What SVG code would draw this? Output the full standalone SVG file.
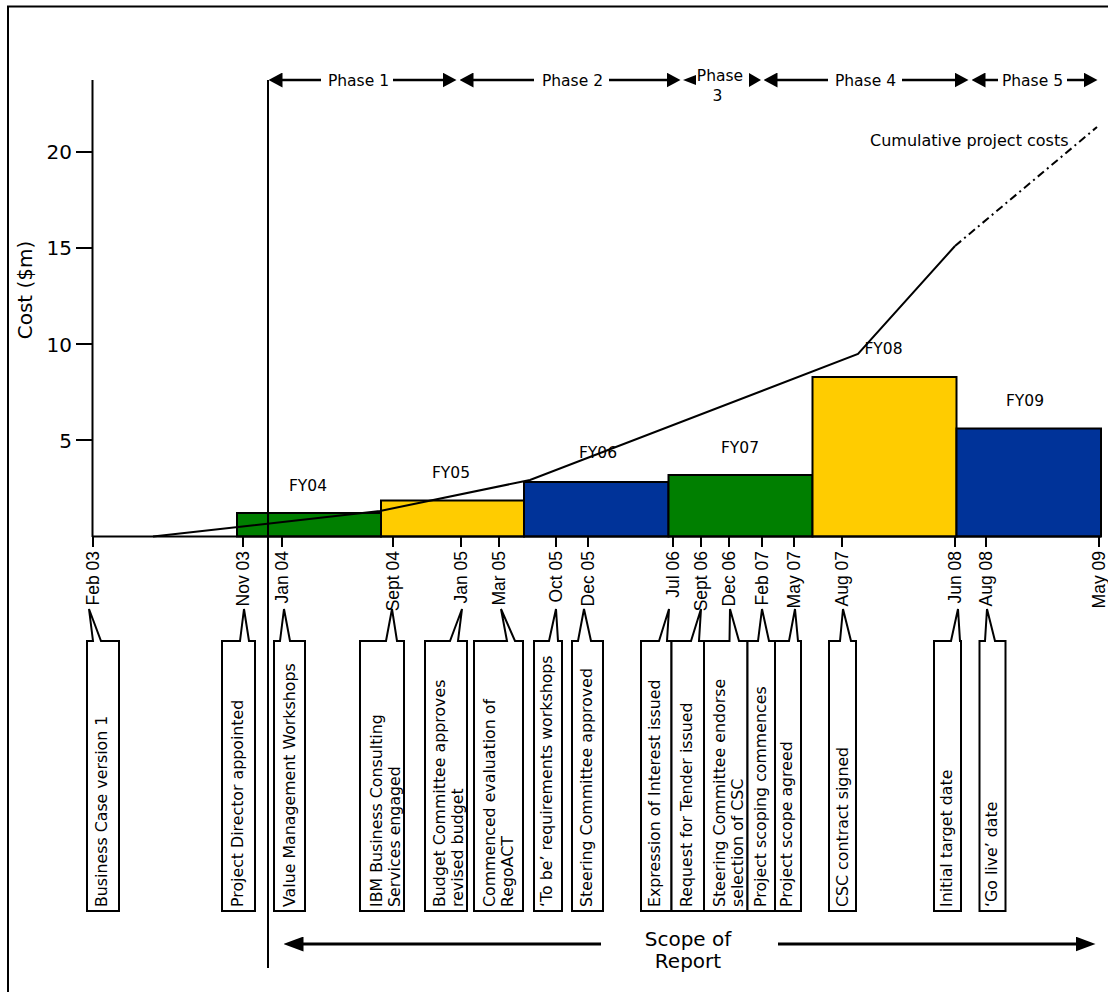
<svg xmlns="http://www.w3.org/2000/svg" width="1108" height="992" viewBox="0 0 1108 992">
<style>
.t{font-family:"DejaVu Sans",Verdana,sans-serif;fill:#000}
.ax{font-size:20px}
.ph{font-size:15.5px;text-anchor:middle}
.fy{font-size:15.5px;text-anchor:middle}
.dt{font-family:"Liberation Sans",Arial,sans-serif;font-size:17.5px;fill:#000;text-anchor:end}
.bx{font-size:15.8px}
.ln{stroke:#000;stroke-width:2;fill:none}
.bar{stroke:#000;stroke-width:2}
.cb{fill:#fff;stroke:#000;stroke-width:2;stroke-linejoin:miter}
.arr{stroke:#000;stroke-width:2.5;fill:none}
.sarr{stroke:#000;stroke-width:3;fill:none}
</style>
<defs>
<marker id="ah" markerUnits="userSpaceOnUse" markerWidth="14" markerHeight="15" viewBox="0 0 14 15" refX="0.5" refY="7.5" orient="auto"><path d="M0,0 L14,7.5 L0,15 Z" fill="#000"/></marker>
<marker id="ahb" markerUnits="userSpaceOnUse" markerWidth="20" markerHeight="15" viewBox="0 0 20 15" refX="0.5" refY="7.5" orient="auto"><path d="M0,0 L20,7.5 L0,15 Z" fill="#000"/></marker>
</defs>
<rect x="0" y="0" width="1108" height="992" fill="#fff"/>
<rect x="8" y="6.5" width="1120" height="1000" fill="none" stroke="#000" stroke-width="2"/>

<g id="axis">
<line class="ln" x1="92.5" y1="80" x2="92.5" y2="537"/>
<line class="ln" x1="76" y1="152" x2="92.5" y2="152"/>
<line class="ln" x1="76" y1="248" x2="92.5" y2="248"/>
<line class="ln" x1="76" y1="344" x2="92.5" y2="344"/>
<line class="ln" x1="76" y1="440" x2="92.5" y2="440"/>
<text class="t ax" x="72" y="159" text-anchor="end">20</text>
<text class="t ax" x="72" y="255" text-anchor="end">15</text>
<text class="t ax" x="72" y="352" text-anchor="end">10</text>
<text class="t ax" x="72" y="448" text-anchor="end">5</text>
<text class="t ax" transform="translate(32,290) rotate(-90)" text-anchor="middle">Cost ($m)</text>
</g>

<g id="bars">
<g id="bar-fy04"><rect class="bar" x="237" y="513" width="144" height="23.5" fill="#007F00"/><text class="t fy" x="308" y="490.5">FY04</text></g>
<g id="bar-fy05"><rect class="bar" x="381" y="500.5" width="143" height="36" fill="#FFCC00"/><text class="t fy" x="451" y="477.5">FY05</text></g>
<g id="bar-fy06"><rect class="bar" x="524" y="482" width="144.5" height="54.5" fill="#003399"/><text class="t fy" x="598" y="457.5">FY06</text></g>
<g id="bar-fy07"><rect class="bar" x="668.5" y="475" width="144" height="61.5" fill="#007F00"/><text class="t fy" x="740" y="452.5">FY07</text></g>
<g id="bar-fy08"><rect class="bar" x="812.5" y="377" width="144" height="159.5" fill="#FFCC00"/><text class="t fy" x="883.5" y="353.5">FY08</text></g>
<g id="bar-fy09"><rect class="bar" x="956.5" y="428.5" width="144.5" height="108" fill="#003399"/><text class="t fy" x="1025" y="405.5">FY09</text></g>
</g>

<line class="ln" x1="92.5" y1="536.5" x2="1101" y2="536.5"/>

<g id="dates">
<g class="ln">
<line x1="93" y1="536" x2="93" y2="547"/>
<line x1="243" y1="536" x2="243" y2="547"/>
<line x1="282" y1="536" x2="282" y2="547"/>
<line x1="393" y1="536" x2="393" y2="547"/>
<line x1="461" y1="536" x2="461" y2="547"/>
<line x1="499" y1="536" x2="499" y2="547"/>
<line x1="556" y1="536" x2="556" y2="547"/>
<line x1="588" y1="536" x2="588" y2="547"/>
<line x1="673" y1="536" x2="673" y2="547"/>
<line x1="701" y1="536" x2="701" y2="547"/>
<line x1="729" y1="536" x2="729" y2="547"/>
<line x1="762" y1="536" x2="762" y2="547"/>
<line x1="794" y1="536" x2="794" y2="547"/>
<line x1="842" y1="536" x2="842" y2="547"/>
<line x1="955" y1="536" x2="955" y2="547"/>
<line x1="986" y1="536" x2="986" y2="547"/>
<line x1="1099" y1="536" x2="1099" y2="547"/>
</g>
<text class="dt" transform="translate(99,551) rotate(-90)">Feb 03</text>
<text class="dt" transform="translate(249,551) rotate(-90)">Nov 03</text>
<text class="dt" transform="translate(288,551) rotate(-90)">Jan 04</text>
<text class="dt" transform="translate(399,551) rotate(-90)">Sept 04</text>
<text class="dt" transform="translate(467,551) rotate(-90)">Jan 05</text>
<text class="dt" transform="translate(505,551) rotate(-90)">Mar 05</text>
<text class="dt" transform="translate(562,551) rotate(-90)">Oct 05</text>
<text class="dt" transform="translate(594,551) rotate(-90)">Dec 05</text>
<text class="dt" transform="translate(679,551) rotate(-90)">Jul 06</text>
<text class="dt" transform="translate(707,551) rotate(-90)">Sept 06</text>
<text class="dt" transform="translate(735,551) rotate(-90)">Dec 06</text>
<text class="dt" transform="translate(768,551) rotate(-90)">Feb 07</text>
<text class="dt" transform="translate(800,551) rotate(-90)">May 07</text>
<text class="dt" transform="translate(848,551) rotate(-90)">Aug 07</text>
<text class="dt" transform="translate(961,551) rotate(-90)">Jun 08</text>
<text class="dt" transform="translate(992,551) rotate(-90)">Aug 08</text>
<text class="dt" transform="translate(1105,551) rotate(-90)">May 09</text>
</g>

<g id="callouts">
<g id="c-business-case"><path class="cb" d="M87,641 H93 L89,609 L101,641 H119 V911 H87 Z"/><text class="t bx" transform="translate(107,907) rotate(-90)">Business Case version 1</text></g>
<g id="c-project-director"><path class="cb" d="M222,641 H240 L244,609 L249,641 H255 V911 H222 Z"/><text class="t bx" transform="translate(243,907) rotate(-90)">Project Director appointed</text></g>
<g id="c-value-management"><path class="cb" d="M274,641 H280 L284,609 L290,641 H305 V911 H274 Z"/><text class="t bx" transform="translate(294.5,907) rotate(-90)">Value Management Workshops</text></g>
<g id="c-ibm"><path class="cb" d="M360,641 H386 L392,609 L397,641 H404 V911 H360 Z"/><text class="t bx" transform="translate(381.5,907) rotate(-90)">IBM Business Consulting</text><text class="t bx" transform="translate(399.5,907) rotate(-90)">Services engaged</text></g>
<g id="c-budget"><path class="cb" d="M425,641 H450 L462,609 L458,641 H467 V911 H425 Z"/><text class="t bx" transform="translate(444.5,907) rotate(-90)">Budget Committee approves</text><text class="t bx" transform="translate(462.5,907) rotate(-90)">revised budget</text></g>
<g id="c-regoact"><path class="cb" d="M474,641 H507 L501,609 L515,641 H523 V911 H474 Z"/><text class="t bx" transform="translate(494.5,907) rotate(-90)">Commenced evaluation of</text><text class="t bx" transform="translate(512.5,907) rotate(-90)">RegoACT</text></g>
<g id="c-to-be"><path class="cb" d="M534,641 H549 L556,609 L558,641 H562 V911 H534 Z"/><text class="t bx" transform="translate(552,907) rotate(-90)">‘To be’ requirements workshops</text></g>
<g id="c-steering-approved"><path class="cb" d="M572,641 H578 L584,609 L591,641 H603 V911 H572 Z"/><text class="t bx" transform="translate(592,907) rotate(-90)">Steering Committee approved</text></g>
<g id="c-eoi"><path class="cb" d="M641,641 H659 L669,609 L667,641 H671.5 V911 H641 Z"/><text class="t bx" transform="translate(660,907) rotate(-90)">Expression of Interest issued</text></g>
<g id="c-rft"><path class="cb" d="M671.5,641 H691 L701,609 L699,641 H704 V911 H671.5 Z"/><text class="t bx" transform="translate(692,907) rotate(-90)">Request for Tender issued</text></g>
<g id="c-steering-endorse"><path class="cb" d="M704,641 H729.5 L730,609 L739,641 H747.5 V911 H704 Z"/><text class="t bx" transform="translate(724.5,907) rotate(-90)">Steering Committee endorse</text><text class="t bx" transform="translate(743,907) rotate(-90)">selection of CSC</text></g>
<g id="c-scoping"><path class="cb" d="M747.5,641 H758 L762,609 L769,641 H775 V911 H747.5 Z"/><text class="t bx" transform="translate(765.5,907) rotate(-90)">Project scoping commences</text></g>
<g id="c-scope-agreed"><path class="cb" d="M775,641 H789 L795,609 L798,641 H801 V911 H775 Z"/><text class="t bx" transform="translate(792,907) rotate(-90)">Project scope agreed</text></g>
<g id="c-csc"><path class="cb" d="M829,641 H840 L843,609 L851,641 H856 V911 H829 Z"/><text class="t bx" transform="translate(847.5,907) rotate(-90)">CSC contract signed</text></g>
<g id="c-initial-target"><path class="cb" d="M934,641 H951 L958,609 L960,641 H961 V911 H934 Z"/><text class="t bx" transform="translate(952,907) rotate(-90)">Initial target date</text></g>
<g id="c-go-live"><path class="cb" d="M979.5,641 H985 L987,609 L995,641 H1005.5 V911 H979.5 Z"/><text class="t bx" transform="translate(997,907) rotate(-90)">‘Go live’ date</text></g>
</g>

<g id="connectors">
<polyline class="ln" points="153,536.5 380,511 530,480 858,354 955,246"/>
<line class="ln" x1="955" y1="246" x2="1097" y2="127" stroke-dasharray="8 4 2 4"/>
<line class="ln" x1="268" y1="80" x2="268" y2="968"/>
<line class="arr" x1="321" y1="80" x2="282" y2="80" marker-end="url(#ah)"/>
<line class="arr" x1="393" y1="80" x2="443" y2="80" marker-end="url(#ah)"/>
<line class="arr" x1="534" y1="80" x2="473" y2="80" marker-end="url(#ah)"/>
<line class="arr" x1="609" y1="80" x2="667" y2="80" marker-end="url(#ah)"/>
<polygon points="683,80 696,75 696,85" fill="#000"/>
<polygon points="749,73 761,80 749,87" fill="#000"/>
<line class="arr" x1="828" y1="80" x2="777" y2="80" marker-end="url(#ah)"/>
<line class="arr" x1="902" y1="80" x2="955" y2="80" marker-end="url(#ah)"/>
<line class="arr" x1="998" y1="80" x2="985" y2="80" marker-end="url(#ah)"/>
<line class="arr" x1="1067" y1="80" x2="1084" y2="80" marker-end="url(#ah)"/>
<line class="sarr" x1="601" y1="944" x2="303" y2="944" marker-end="url(#ahb)"/>
<line class="sarr" x1="778" y1="944" x2="1076" y2="944" marker-end="url(#ahb)"/>
</g>

<g id="labels">
<text class="t ph" x="358.5" y="85.5">Phase 1</text>
<text class="t ph" x="572.5" y="85.5">Phase 2</text>
<text class="t ph" x="720" y="81">Phase</text>
<text class="t ph" x="717.5" y="100.5">3</text>
<text class="t ph" x="865.5" y="85.5">Phase 4</text>
<text class="t ph" x="1032.5" y="85.5">Phase 5</text>
<text class="t" x="870" y="146" font-size="16">Cumulative project costs</text>
<text class="t" x="688" y="945.5" font-size="20" text-anchor="middle">Scope of</text>
<text class="t" x="688" y="968" font-size="20" text-anchor="middle">Report</text>
</g>
</svg>
